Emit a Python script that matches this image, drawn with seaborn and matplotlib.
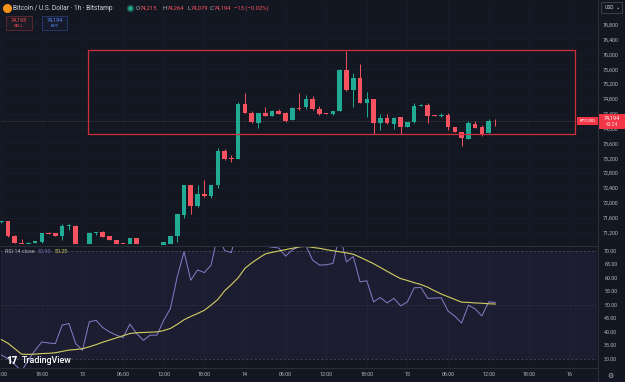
import numpy as np
import pandas as pd
import matplotlib
matplotlib.use("Agg")
import matplotlib.pyplot as plt
from matplotlib.patches import Rectangle
from matplotlib.lines import Line2D
import seaborn as sns

# BTC/USD 1h candles, hour index 0 = 12 Nov 13:00 (first one, -1, is cut at the edge)
hours = list(range(-1, 73))
opens = [71470, 71500, 71117, 70928, 70890, 70917, 70936, 71180, 71179, 71098,
         71376, 71387, 70890, 70882, 71190, 71215, 71098, 70990, 70917, 70890,
         71052, 70840, 70760, 70790, 70830, 70900, 71098, 71684, 72467, 71927,
         72232, 72170, 72467, 73393, 73190, 73185, 74660, 74430, 74157, 74419,
         74346, 74473, 74419, 74238, 74540, 74573, 74789, 74519, 74400, 74384,
         74473, 75578, 75040, 75355, 74680, 74789, 74141, 74284, 74122, 74303,
         74049, 74168, 74608, 74635, 74350, 74340, 74365, 74032, 73898, 73725,
         74122, 74032, 73887, 74215]
highs = [71520, 71510, 71140, 71035, 70935, 70970, 71195, 71210, 71185, 71420,
         71430, 71395, 70900, 71210, 71220, 71230, 71110, 71000, 70925, 71060,
         71060, 70850, 70820, 70840, 70945, 71110, 71700, 72480, 72470, 72467,
         72610, 72480, 73482, 73440, 73300, 74724, 74950, 74470, 74430, 74589,
         74490, 74520, 74440, 74580, 74951, 74905, 74880, 74600, 74420, 74480,
         75600, 76101, 75500, 75742, 74980, 74800, 74380, 74400, 74300, 74310,
         74180, 74690, 74650, 74690, 74360, 74420, 74420, 74040, 73900, 74190,
         74190, 74100, 74270, 74264]
lows = [71460, 71090, 70910, 70885, 70885, 70910, 70930, 71150, 71110, 71000,
        71270, 70875, 70870, 70875, 71120, 71070, 71000, 70890, 70885, 70885,
        70870, 70720, 70700, 70750, 70820, 70890, 70950, 71600, 71700, 71900,
        72150, 72130, 72400, 73150, 73100, 73180, 74420, 74140, 74022, 74330,
        74330, 74390, 74180, 74230, 74500, 74520, 74500, 74370, 74380, 74370,
        74460, 75020, 74573, 74680, 74300, 73852, 73950, 74130, 74000, 73852,
        74040, 74160, 74600, 74150, 74330, 74300, 73960, 73900, 73528, 73720,
        74010, 73810, 73880, 74079]
closes = [71510, 71100, 70917, 70890, 70928, 70963, 71187, 71165, 71117, 71376,
          71390, 70882, 70880, 71187, 71210, 71079, 71009, 70900, 70890, 71052,
          70882, 70760, 70790, 70830, 70936, 71098, 71692, 72467, 71927, 72232,
          72170, 72467, 73393, 73185, 73180, 74660, 74430, 74176, 74419, 74346,
          74473, 74400, 74211, 74562, 74527, 74789, 74519, 74392, 74392, 74470,
          75578, 75040, 75364, 74697, 74789, 74141, 74292, 74141, 74292, 74049,
          74168, 74608, 74635, 74338, 74346, 74355, 74049, 73914, 73736, 74141,
          74022, 73852, 74203, 74194]

# RSI 14 and its moving average
rsi = [31.5, 30.1, 28.0, 25.5, 29.5, 33.2, 36.3, 35.9, 35.7, 42.5,
       43.1, 35.7, 33.2, 43.7, 44.3, 41.6, 40.0, 38.8, 37.9, 42.9,
       39.4, 36.9, 38.8, 38.8, 44.3, 48.7, 60.4, 69.6, 59.1, 62.9,
       61.9, 64.7, 76.0, 70.0, 69.3, 80.0, 74.0, 72.5, 72.0, 71.7,
       71.3, 71.0, 68.0, 70.3, 71.5, 71.8, 66.5, 64.7, 64.8, 65.3,
       76.0, 65.9, 67.8, 58.5, 58.9, 51.1, 52.7, 50.7, 52.4, 49.6,
       51.1, 56.3, 56.4, 52.4, 52.5, 52.6, 47.7, 45.8, 43.3, 49.9,
       48.5, 45.9, 51.1, 50.9]
rsi_ma = [37.2, 35.8, 33.8, 31.8, 31.7, 31.8, 32.0, 32.1, 32.3, 32.8,
          33.3, 33.5, 33.8, 34.5, 35.3, 36.2, 37.0, 37.8, 38.6, 39.4,
          39.7, 39.8, 39.9, 40.0, 40.5, 41.3, 42.8, 44.5, 45.7, 46.8,
          48.0, 49.9, 52.0, 55.2, 57.5, 60.0, 63.5, 65.5, 67.2, 68.8,
          69.4, 69.9, 70.4, 70.9, 71.4, 71.6, 71.2, 70.9, 70.4, 70.0,
          69.6, 69.2, 68.7, 67.6, 66.4, 65.2, 63.8, 62.4, 61.0, 59.7,
          59.0, 58.2, 57.5, 56.5, 55.2, 54.0, 53.0, 52.0, 51.0, 50.9,
          50.7, 50.6, 50.4, 50.3]

price_ticks = list(range(71200, 77000, 400))
rsi_ticks = [30, 35, 40, 45, 50, 55, 60, 65, 70]
time_pos = [-1, 5, 11, 17, 23, 29, 35, 41, 47, 53, 59, 65, 71, 77, 83]
time_labels = ["12:00", "18:00", "13", "06:00", "12:00", "18:00", "14", "06:00",
               "12:00", "18:00", "15", "06:00", "12:00", "18:00", "16"]
box_hours = (11.86, 83.8)
box_prices = (73860, 76112)
last_price = 74194

BG = "#131722"
GREEN = "#22ab94"
RED = "#f7525f"
TXT = "#b2b5be"
GRID = "#181c28"

sns.set_theme(style="dark", rc={"axes.facecolor": BG, "figure.facecolor": BG,
                                "axes.edgecolor": BG, "axes.grid": False})
plt.rcParams["font.family"] = ["Roboto", "DejaVu Sans"]

W, H = 625, 382
fig = plt.figure(figsize=(W / 100, H / 100), dpi=100)


def fx(x):
    return x / W


def fy(y):
    return 1 - y / H


ax = fig.add_axes([0, fy(245), fx(598), 245 / H])
ax2 = fig.add_axes([0, fy(368), fx(598), 122 / H])

df = pd.DataFrame({"hour": hours, "open": opens, "high": highs,
                   "low": lows, "close": closes, "rsi": rsi, "rsi_ma": rsi_ma})
up = df["close"] >= df["open"]
cols = np.where(up, GREEN, RED)

# faint grid
for t in time_pos:
    ax.axvline(t, color=GRID, lw=0.6, zorder=0)
    ax2.axvline(t, color=GRID, lw=0.6, zorder=0)
for p in price_ticks:
    ax.axhline(p, color=GRID, lw=0.6, zorder=0)

# candles
ax.vlines(df["hour"], df["low"], df["high"], color=cols, lw=0.7, zorder=2)
body = np.maximum((df["close"] - df["open"]).abs(), 18)
ax.bar(df["hour"], body, bottom=np.minimum(df["open"], df["close"]),
       width=0.68, color=cols, lw=0, zorder=3)

ax.axhline(last_price, color="#4b3f4c", lw=0.6, ls=(0, (1.5, 1.5)), zorder=1)
ax.add_patch(Rectangle((box_hours[0], box_prices[0]), box_hours[1] - box_hours[0],
                       box_prices[1] - box_prices[0], fill=False,
                       edgecolor="#d12f3a", lw=0.9, zorder=4))

ax.set_xlim(-1.18, 87.15)
ax.set_ylim(70863, 77463)
ax.yaxis.tick_right()
ax.set_yticks(price_ticks)
ax.set_yticklabels([f"{p:,}" for p in price_ticks])
ax.tick_params(axis="y", length=0, pad=3.8, labelsize=3.9, labelcolor=TXT)
ax.set_xticks([])
ax.set_xlabel("")
ax.set_ylabel("")

# RSI pane
ax2.axhspan(30, 70, color="#7e57c2", alpha=0.1, lw=0, zorder=0)
for lvl, ls in [(70, (0, (3, 3))), (50, (0, (1, 3))), (30, (0, (3, 3)))]:
    ax2.axhline(lvl, color="#787b86", lw=0.5, ls=ls, alpha=0.6, zorder=1)
sns.lineplot(data=df, x="hour", y="rsi", ax=ax2, color="#8a7cc8", lw=0.7, zorder=3)
sns.lineplot(data=df, x="hour", y="rsi_ma", ax=ax2, color="#d2cf62", lw=0.8, zorder=4)
ax2.set_xlim(-1.18, 87.15)
ax2.set_ylim(26.67, 71.74)
ax2.yaxis.tick_right()
ax2.set_yticks(rsi_ticks)
ax2.set_yticklabels([f"{v:.2f}" for v in rsi_ticks])
ax2.tick_params(axis="y", length=0, pad=4.5, labelsize=3.9, labelcolor=TXT)
ax2.set_xticks(time_pos)
ax2.set_xticklabels(time_labels)
ax2.tick_params(axis="x", length=0, pad=3.2, labelsize=3.9, labelcolor=TXT)
ax2.set_xlabel("")
ax2.set_ylabel("")

# separators
fig.add_artist(Line2D([fx(598), fx(598)], [0, 1], color="#2a2e39", lw=0.8))
fig.add_artist(Line2D([0, fx(598)], [fy(368), fy(368)], color="#2a2e39", lw=0.8))
fig.add_artist(Line2D([0, fx(598)], [fy(245.5), fy(245.5)], color="#2a2e39", lw=0.8))

# header
fig.add_artist(Line2D([fx(7)], [fy(8)], marker="o", ms=5.5, color="#f7931a", lw=0))
fig.text(fx(13), fy(8), "Bitcoin / U.S. Dollar · 1h · Bitstamp", color="#d1d4dc",
         fontsize=4.7, va="center")
fig.add_artist(Line2D([fx(130)], [fy(8)], marker="o", ms=4.5, color="#1d4a45", lw=0))
fig.add_artist(Line2D([fx(130)], [fy(8)], marker="o", ms=2.2, color=GREEN, lw=0))
ohlc = [(135.5, "O", "74,215"), (162.8, "H", "74,264"),
        (187.0, "L", "74,079"), (209.5, "C", "74,194")]
for x0, k, v in ohlc:
    fig.text(fx(x0), fy(8), k, color=TXT, fontsize=4.2, va="center")
    fig.text(fx(x0 + 4.3), fy(8), v, color=RED, fontsize=4.2, va="center")
fig.text(fx(234), fy(8), "−13 (−0.02%)", color=RED, fontsize=4.2, va="center")

fig.add_artist(Rectangle((fx(6), fy(30)), fx(25.7), 14.3 / H, facecolor="#1c1b24",
                         edgecolor="#5a2630", lw=0.7))
fig.text(fx(18.8), fy(19.8), "74,193", color=RED, fontsize=3.9, ha="center", va="center")
fig.text(fx(18.8), fy(26), "SELL", color=RED, fontsize=3.2, ha="center", va="center")
fig.text(fx(36.5), fy(23), "·", color=TXT, fontsize=4.5, ha="center", va="center")
fig.add_artist(Rectangle((fx(41.7), fy(30)), fx(25.6), 14.3 / H, facecolor="#161b2c",
                         edgecolor="#24356a", lw=0.7))
fig.text(fx(54.5), fy(19.8), "74,194", color="#5b8cff", fontsize=3.9, ha="center", va="center")
fig.text(fx(54.5), fy(26), "BUY", color="#5b8cff", fontsize=3.2, ha="center", va="center")

# price axis extras
fig.add_artist(Rectangle((fx(601), fy(13)), fx(21), 11 / H, facecolor=BG,
                         edgecolor="#434651", lw=0.6))
fig.text(fx(609), fy(7.5), "USD", color="#d1d4dc", fontsize=3.6, ha="center", va="center")
fig.text(fx(618.5), fy(7.5), "⌄", color="#d1d4dc", fontsize=3.6, ha="center", va="center",
         family=["DejaVu Sans"])
fig.add_artist(Rectangle((fx(598.5), fy(129)), fx(26.5), 15 / H, facecolor="#f23645", lw=0))
fig.text(fx(611.5), fy(118.3), f"{last_price:,}", color="white", fontsize=3.9,
         ha="center", va="center")
fig.text(fx(611.5), fy(125), "43:24", color="#ffd7da", fontsize=3.5, ha="center", va="center")
fig.add_artist(Rectangle((fx(577), fy(125.3)), fx(20.5), 8 / H, facecolor="#f23645", lw=0))
fig.text(fx(587.2), fy(121.3), "BTCUSD", color="white", fontsize=3.1, ha="center", va="center")
fig.text(fx(610.5), fy(376), "⚙", color=TXT, fontsize=5, ha="center", va="center",
         family=["DejaVu Sans"])

# RSI legend
fig.text(fx(5), fy(251.7), "RSI 14 close", color=TXT, fontsize=3.9, va="center")
fig.text(fx(37.3), fy(251.7), "50.93", color="#7e6bc0", fontsize=3.9, va="center")
fig.text(fx(55), fy(251.7), "50.25", color="#d2cf62", fontsize=3.9, va="center")

# watermark
fig.text(fx(6), fy(360.5), "17", color="white", fontsize=7, fontweight="heavy",
         va="center")
fig.text(fx(22), fy(360.5), "TradingView", color="white", fontsize=6.4,
         fontweight="medium", va="center")

fig.savefig("out.png", dpi=100, facecolor=BG)
